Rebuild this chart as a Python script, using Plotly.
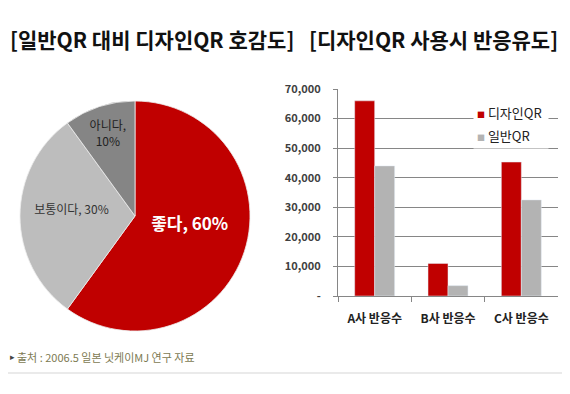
import plotly.graph_objects as go

# ---- data ----
pie_labels = ["좋다", "보통이다", "아니다"]
pie_values = [60, 30, 10]
pie_colors = ["#C00000", "#BDBDBD", "#858585"]

bar_categories = ["A사 반응수", "B사 반응수", "C사 반응수"]
design_qr = [66000, 11000, 45300]
normal_qr = [44000, 3500, 32500]
series_names = ["디자인QR", "일반QR"]
series_colors = ["#C00000", "#B3B3B3"]

y_ticks = [0, 10000, 20000, 30000, 40000, 50000, 60000, 70000]
y_tick_labels = ["-", "10,000", "20,000", "30,000", "40,000", "50,000", "60,000", "70,000"]

title_left = "[일반QR 대비 디자인QR 호감도]"
title_right = "[디자인QR 사용시 반응유도]"
source_text = "출처 : 2006.5 일본 닛케이MJ 연구 자료"

# page body has an 8px margin -> figure drawn at (8, 8)
OFF = 8
W, H = 570 - OFF, 394 - OFF
FONT = "Noto Sans CJK KR"


def fx(px):
    return (px - OFF) / W


def fy(py):
    return 1 - (py - OFF) / H


pie_text = []
for l, v in zip(pie_labels, pie_values):
    if v < 15:
        pie_text.append(f"{l},<br>{v}%")
    else:
        # trailing blank line lifts the label slightly, as in the original
        pie_text.append(f"{l}, {v}%<br>\u00a0")

fig = go.Figure()

fig.add_trace(go.Pie(
    labels=pie_labels, values=pie_values, text=pie_text,
    textinfo="text", sort=False, direction="clockwise", rotation=0,
    marker=dict(colors=pie_colors, line=dict(color="#eeeeee", width=0.8)),
    textposition="inside", insidetextorientation="horizontal",
    textfont=dict(family=FONT, color=["#ffffff", "#333333", "#222222"],
                  size=[17, 12, 12], weight=[700, 400, 400]),
    domain=dict(x=[fx(20), fx(250)], y=[fy(331), fy(101)]),
    showlegend=False, hoverinfo="label+percent",
))

for name, vals, col in zip(series_names, [design_qr, normal_qr], series_colors):
    fig.add_trace(go.Bar(
        x=bar_categories, y=vals, name=name,
        marker=dict(color=col), xaxis="x", yaxis="y", showlegend=False,
    ))

fig.update_layout(
    width=W, height=H,
    margin=dict(l=0, r=0, t=0, b=0, autoexpand=False),
    paper_bgcolor="white", plot_bgcolor="white",
    font=dict(family=FONT, color="#333333"),
    barmode="group", bargap=0.455, bargroupgap=0,
    xaxis=dict(
        domain=[fx(338), fx(558)], anchor="y",
        showline=True, linecolor="#868686", linewidth=1,
        ticks="outside", tickson="boundaries", ticklen=5, tickcolor="#868686",
        tickfont=dict(size=12, color="#222222", weight=700),
        ticklabelstandoff=12, showgrid=False, automargin=False,
    ),
    yaxis=dict(
        domain=[fy(296), fy(89)], anchor="x",
        range=[0, 70000], tickvals=y_ticks, ticktext=y_tick_labels,
        showline=True, linecolor="#868686", linewidth=1,
        showgrid=True, gridcolor="#868686", gridwidth=1,
        ticks="outside", ticklen=4, tickcolor="#868686",
        tickfont=dict(size=11, color="#404040", weight=700),
        ticklabelstandoff=10, zeroline=False, automargin=False,
    ),
)

# legend entries (text built from series names/colours)
for i, (name, col) in enumerate(zip(series_names, series_colors)):
    fig.add_annotation(
        text=f"<span style='color:{col};font-size:8px'>■</span> {name}",
        x=fx(473), y=fy(112 + 23 * i), xref="paper", yref="paper",
        showarrow=False, xanchor="left", yanchor="middle", align="left",
        width=68, bgcolor="white", borderpad=3,
        font=dict(size=13, color="#222222", family=FONT),
    )

fig.add_annotation(text=f"<b>{title_left}</b>", x=fx(152), y=fy(39),
                   xref="paper", yref="paper", showarrow=False,
                   font=dict(size=21, color="#111111", family=FONT),
                   xanchor="center", yanchor="middle")
fig.add_annotation(text=f"<b>{title_right}</b>", x=fx(433), y=fy(39),
                   xref="paper", yref="paper", showarrow=False,
                   font=dict(size=21, color="#111111", family=FONT),
                   xanchor="center", yanchor="middle")
fig.add_annotation(text="▸", x=0, y=fy(356), xref="paper", yref="paper",
                   showarrow=False, xanchor="left", yanchor="middle",
                   font=dict(size=9, color="#444444", family=FONT))
fig.add_annotation(text=source_text, x=fx(15), y=fy(357),
                   xref="paper", yref="paper", showarrow=False,
                   xanchor="left", yanchor="middle",
                   font=dict(size=11, color="#7d7a52", family=FONT))
fig.add_shape(type="line", xref="paper", yref="paper",
              x0=0, x1=1, y0=fy(373), y1=fy(373),
              line=dict(color="#e3e3e3", width=1.5))

fig.write_html("out.html")
